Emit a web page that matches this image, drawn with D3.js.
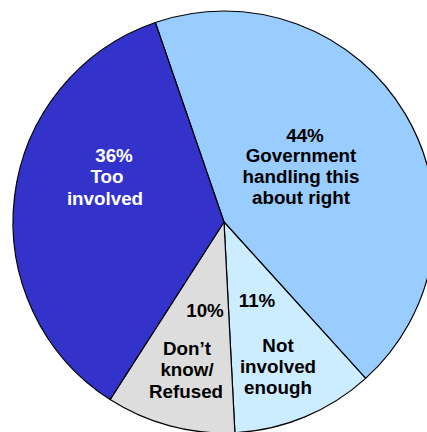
<!DOCTYPE html>
<html>
<head>
<meta charset="utf-8">
<script src="https://cdn.jsdelivr.net/npm/d3@7"></script>
<style>
  html, body { margin: 0; padding: 0; background: #fff; }
  svg { display: block; }
</style>
</head>
<body>
<svg id="chart" width="427" height="432"></svg>
<script>
// Survey answers, in drawing order (clockwise)
const categories = ["Government handling this about right", "Not involved enough", "Don't know/Refused", "Too involved"];
const values = [44, 11, 10, 36];
const labelLines = [
  ["44%", "Government", "handling this", "about right"],
  ["11%", "Not", "involved", "enough"],
  ["10%", "Don\u2019t", "know/", "Refused"],
  ["36%", "Too", "involved"]
];

const colors = ["#99ccff", "#ccecff", "#dddddd", "#3333cc"];
const textColors = ["#000", "#000", "#000", "#fff"];

// Per-line label placement relative to the pie centre: [dx, baseline dy]
const labelPos = [
  [[81, -80], [77, -60], [77, -39], [77, -18]],
  [[33, 85], [54, 130], [54, 151], [54, 172]],
  [[-19, 95], [-37, 133], [-37, 154], [-38, 176]],
  [[-110, -60], [-117, -39], [-119, -17]]
];

const svg = d3.select("#chart");
const cx = 224, cy = 222, r = 211;
const g = svg.append("g").attr("transform", `translate(${cx},${cy})`);

const pie = d3.pie()
  .sort(null)
  .value(d => d)
  .startAngle(-19 * Math.PI / 180)
  .endAngle((360 - 19) * Math.PI / 180);

const arc = d3.arc().innerRadius(0).outerRadius(r);
const arcs = pie(values);

g.selectAll("path.slice")
  .data(arcs)
  .join("path")
  .attr("class", "slice")
  .attr("d", arc)
  .attr("fill", (d, i) => colors[i])
  .attr("stroke", "#000")
  .attr("stroke-width", 1.2)
  .attr("stroke-linejoin", "round");

const labels = g.selectAll("g.label")
  .data(arcs)
  .join("g")
  .attr("class", "label");

labels.each(function(d, i) {
  const grp = d3.select(this);
  labelLines[i].forEach((line, j) => {
    grp.append("text")
      .attr("x", labelPos[i][j][0])
      .attr("y", labelPos[i][j][1])
      .attr("text-anchor", "middle")
      .attr("font-family", "Arial, 'Liberation Sans', sans-serif")
      .attr("font-weight", "bold")
      .attr("font-size", 18.8)
      .attr("fill", textColors[i])
      .text(line);
  });
});
</script>
</body>
</html>
